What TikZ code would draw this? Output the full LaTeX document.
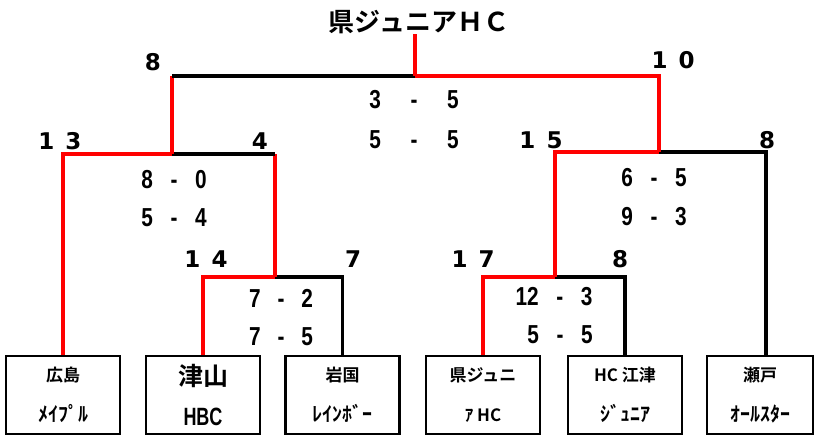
\documentclass[tikz,border=0pt]{standalone}
\usepackage{fontspec}
\usepackage{graphicx}
\setmainfont{Liberation Sans}
\newfontfamily\jp{Noto Sans CJK JP}[UprightFont=* Bold]
\newfontfamily\dv{DejaVu Sans}
\newcommand{\hankaku}{\fontsize{20}{20}\selectfont}
\newcommand{\res}[3][22pt]{\scalebox{0.8}[1]{#2\hspace{#1}-\hspace{#1}#3}}
\tikzset{
  win/.style={red, line width=3.5pt},
  lose/.style={black, line width=3.5pt},
  team/.style={draw, line width=2.5pt, minimum width=114pt, minimum height=78pt, inner sep=0pt,
    align=center, font=\jp\fontsize{17}{40}\selectfont, execute at begin node=\rule{0pt}{19pt}},
  seed/.style={font=\dv\bfseries\fontsize{23}{23}\selectfont},
  score/.style={font=\bfseries\fontsize{26}{26}\selectfont}
}
\begin{document}
\begin{tikzpicture}[x=1pt, y=-1pt]
  \useasboundingbox (0,0) rectangle (815,436);

  \node[inner sep=0pt, font=\jp\fontsize{26}{26}\selectfont] (title) at (419,22) {県ジュニアＨＣ};

  % teams
  \node[team] (hiroshima) at (63,395) {広島\\{\hankaku ﾒｲﾌﾟﾙ}};
  \node[team] (tsuyama) at (203,395) {{\fontsize{25}{25}\selectfont 津山}\\{\rmfamily\bfseries\fontsize{25}{25}\selectfont\scalebox{0.72}[1]{HBC}}};
  \node[team] (iwakuni) at (342.5,395) {岩国\\{\hankaku ﾚｲﾝﾎﾞｰ}};
  \node[team] (kure) at (483,395) {県ジュニ\\ｱ HC};
  \node[team] (gotsu) at (625,395) {HC 江津\\{\hankaku ｼﾞｭﾆｱ}};
  \node[team, minimum width=106pt] (seto) at (760,395) {瀬戸\\{\hankaku ｵｰﾙｽﾀｰ}};

  % junctions
  \coordinate (lq) at (275,277);
  \coordinate (rq) at (555,277);
  \coordinate (ls) at (172,154);
  \coordinate (rs) at (659,152);
  \coordinate (sr) at (766,152);
  \coordinate (top) at (415,76);

  % quarter finals
  \draw[win] (tsuyama.north) |- (lq);
  \draw[lose] (iwakuni.north) |- (lq);
  \draw[win] (kure.north) |- (rq);
  \draw[lose] (gotsu.north) |- (rq);

  % semi finals
  \draw[win] (hiroshima.north) |- (ls);
  \draw[win] (lq) -- (lq |- ls);
  \draw[lose] (lq |- ls) -- (ls);
  \draw[win] (rq) |- (rs);
  \draw[lose] (sr |- seto.north) -- (sr) -- (rs);

  % final
  \draw[win] (ls) -- (ls |- top);
  \draw[lose] (ls |- top) -- (top);
  \draw[win] (rs) |- (top);
  \draw[win] (top) -- (top |- title.south);

  % seeds
  \node[seed] (s1) at (153,62) {8};
  \node[seed] (s2) at (673,60) {1\hspace{11pt}0};
  \node[seed] (s3) at (60,141) {1\hspace{11pt}3};
  \node[seed] (s4) at (260,141) {4};
  \node[seed] (s5) at (541,140) {1\hspace{11pt}5};
  \node[seed] (s6) at (767,140) {8};
  \node[seed] (s7) at (206,259) {1\hspace{11pt}4};
  \node[seed] (s8) at (353,259) {7};
  \node[seed] (s9) at (473,259) {1\hspace{11pt}7};
  \node[seed] (s10) at (620,259) {8};

  % scores
  \node[score] (f1) at (414,100) {\res[37pt]{3}{5}};
  \node[score] (f2) at (414,140) {\res[37pt]{5}{5}};
  \node[score] (ls1) at (174,180) {\res{8}{0}};
  \node[score] (ls2) at (174,218) {\res{5}{4}};
  \node[score] (rs1) at (654,178) {\res{6}{5}};
  \node[score] (rs2) at (654,217) {\res{9}{3}};
  \node[score] (lq1) at (281,298) {\res[21pt]{7}{2}};
  \node[score] (lq2) at (281,337) {\res[21pt]{7}{5}};
  \node[score] (rq1) at (554,297) {\res{12}{3}};
  \node[score] (rq2) at (560,335) {\res{5}{5}};
\end{tikzpicture}
\end{document}
